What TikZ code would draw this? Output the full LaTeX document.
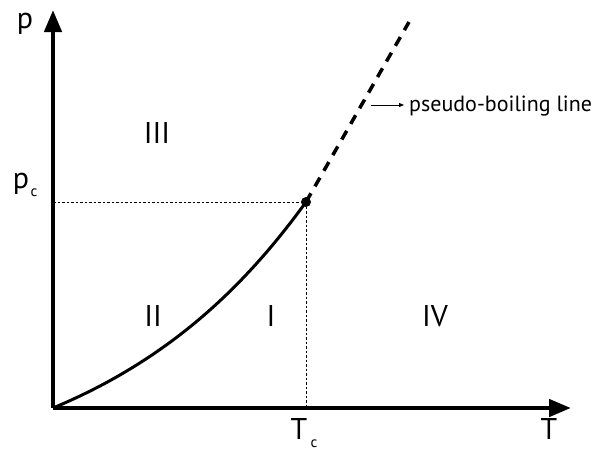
\documentclass[tikz,border=0pt]{standalone}
\usepackage{fontspec}
\setmainfont{PT Sans}
\usetikzlibrary{arrows.meta}
\tikzset{
  axis/.style={line width=4.5pt, -{Triangle[length=22pt,width=17pt]}},
  big/.style={font=\fontsize{30}{32}\selectfont, inner sep=0pt, anchor=base},
  sub/.style={font=\fontsize{15}{16}\selectfont, inner sep=0pt, anchor=base},
  guide/.style={line width=0.9pt, dash pattern=on 2.5pt off 2pt},
  curve/.style={line width=3pt},
  pseudo/.style={line width=3.5pt, dash pattern=on 10pt off 8pt},
  note/.style={font=\fontsize{22}{24}\selectfont, inner sep=0pt, anchor=base west}
}
\begin{document}
\begin{tikzpicture}[x=1pt,y=-1pt]
\useasboundingbox (0,0) rectangle (596,450);
\coordinate (O) at (53,408);
\coordinate (xtip) at (571,408);
\coordinate (ytip) at (53,10);
\coordinate (pcl) at (53,202);
\coordinate (tcl) at (306,408);
\coordinate (pend) at (409,22);
\coordinate (ptr) at (371,105);
\coordinate (ptrend) at (404,105);
\draw[axis] (O) -- (xtip);
\draw[axis] (O) -- (ytip);
\node[circle, fill, inner sep=0pt, minimum size=10pt] (C) at (306,202) {};
\draw[guide] (pcl) -- (C.center);
\draw[guide] (C.center) -- (tcl);
\draw[curve] (O) .. controls (173,358) and (248,282) .. (C.center);
\draw[pseudo] (C.center) -- (pend);
\node[note] (lab) at (409,111) {pseudo-boiling line};
\draw[line width=0.8pt, -{Triangle[length=5pt,width=4pt]}] (ptr) -- (ptrend);
\node[big] (p) at (25,28) {p};
\node[big] (pc) at (21,188) {p};
\node[sub] (pcs) at (34,196) {c};
\node[big] (III) at (157,143) {III};
\node[big] (II) at (153,326) {II};
\node[big] (I) at (271,326) {I};
\node[big] (IV) at (435,326) {IV};
\node[big] (Tc) at (299,439) {T};
\node[sub] (Tcs) at (314,447) {c};
\node[big] (T) at (549,439) {T};
\end{tikzpicture}
\end{document}
